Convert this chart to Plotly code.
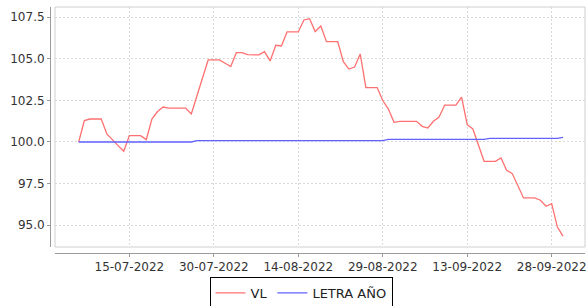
import plotly.graph_objects as go

dates = [
    "2022-07-06", "2022-07-07", "2022-07-08", "2022-07-09", "2022-07-10", "2022-07-11", "2022-07-12",
    "2022-07-13", "2022-07-14", "2022-07-15", "2022-07-16", "2022-07-17", "2022-07-18", "2022-07-19",
    "2022-07-20", "2022-07-21", "2022-07-22", "2022-07-23", "2022-07-24", "2022-07-25", "2022-07-26",
    "2022-07-27", "2022-07-28", "2022-07-29", "2022-07-30", "2022-07-31",
    "2022-08-01", "2022-08-02", "2022-08-03", "2022-08-04", "2022-08-05", "2022-08-06", "2022-08-07",
    "2022-08-08", "2022-08-09", "2022-08-10", "2022-08-11", "2022-08-12", "2022-08-13", "2022-08-14",
    "2022-08-15", "2022-08-16", "2022-08-17", "2022-08-18", "2022-08-19", "2022-08-20", "2022-08-21",
    "2022-08-22", "2022-08-23", "2022-08-24", "2022-08-25", "2022-08-26", "2022-08-27", "2022-08-28",
    "2022-08-29", "2022-08-30", "2022-08-31",
    "2022-09-01", "2022-09-02", "2022-09-03", "2022-09-04", "2022-09-05", "2022-09-06", "2022-09-07",
    "2022-09-08", "2022-09-09", "2022-09-10", "2022-09-11", "2022-09-12", "2022-09-13", "2022-09-14",
    "2022-09-15", "2022-09-16", "2022-09-17", "2022-09-18", "2022-09-19", "2022-09-20", "2022-09-21",
    "2022-09-22", "2022-09-23", "2022-09-24", "2022-09-25", "2022-09-26", "2022-09-27", "2022-09-28",
    "2022-09-29", "2022-09-30",
]

vl = [
    100.00, 101.29, 101.38, 101.38, 101.38, 100.48, 100.10,
    99.78, 99.44, 100.38, 100.38, 100.38, 100.14, 101.38,
    101.83, 102.10, 102.04, 102.04, 102.04, 102.04, 101.68,
    102.84, 103.86, 104.93, 104.93, 104.93,
    104.73, 104.53, 105.37, 105.37, 105.25, 105.23, 105.23,
    105.43, 104.87, 105.81, 105.77, 106.61, 106.61, 106.61,
    107.33, 107.41, 106.63, 106.97, 106.03, 106.03, 106.03,
    104.83, 104.38, 104.50, 105.28, 103.27, 103.27, 103.27,
    102.49, 101.98, 101.18,
    101.24, 101.24, 101.24, 101.24, 100.94, 100.84, 101.24,
    101.50, 102.22, 102.22, 102.22, 102.70, 101.04, 100.78,
    99.74, 98.84, 98.84, 98.84, 99.04, 98.30, 98.10,
    97.38, 96.64, 96.64, 96.64, 96.50, 96.14, 96.30,
    94.90, 94.34,
]

letra = [
    100.00, 100.00, 100.00, 100.00, 100.00, 100.00, 100.00,
    100.00, 100.00, 100.00, 100.00, 100.00, 100.00, 100.00,
    100.00, 100.00, 100.00, 100.00, 100.00, 100.00, 100.00,
    100.08, 100.08, 100.08, 100.08, 100.08,
    100.08, 100.08, 100.08, 100.08, 100.08, 100.08, 100.08,
    100.08, 100.08, 100.08, 100.08, 100.08, 100.08, 100.08,
    100.08, 100.08, 100.08, 100.08, 100.08, 100.08, 100.08,
    100.08, 100.08, 100.08, 100.08, 100.08, 100.08, 100.08,
    100.08, 100.16, 100.16,
    100.16, 100.16, 100.16, 100.16, 100.16, 100.16, 100.16,
    100.16, 100.16, 100.16, 100.16, 100.16, 100.16, 100.16,
    100.16, 100.16, 100.22, 100.22, 100.22, 100.22, 100.22,
    100.22, 100.22, 100.22, 100.22, 100.22, 100.22, 100.22,
    100.22, 100.28,
]

series_names = ["VL", "LETRA AÑO"]
x_tickvals = ["2022-07-15", "2022-07-30", "2022-08-14", "2022-08-29", "2022-09-13", "2022-09-28"]
x_ticktext = ["15-07-2022", "30-07-2022", "14-08-2022", "29-08-2022", "13-09-2022", "28-09-2022"]
y_tickvals = [95.0, 97.5, 100.0, 102.5, 105.0, 107.5]

W, H = 587, 306
ML, MR, MT, MB = 50, 2, 7, 53
plot_w = W - ML - MR
plot_h = H - MT - MB
off_x = 5   # gap between y axis line and plot area
off_y = 6   # gap between x axis line and plot area

font_family = "DejaVu Sans, Verdana, sans-serif"
grid_col = "#d9d9d9"

fig = go.Figure()
fig.add_trace(go.Scatter(x=dates, y=vl, mode="lines", name=series_names[0],
                         line=dict(color="#ff7070", width=1.3)))
fig.add_trace(go.Scatter(x=dates, y=letra, mode="lines", name=series_names[1],
                         line=dict(color="#6262ff", width=1.3)))

fig.update_layout(
    width=W, height=H,
    margin=dict(l=ML, r=MR, t=MT, b=MB, pad=0, autoexpand=False),
    paper_bgcolor="white", plot_bgcolor="white",
    font=dict(family=font_family, size=12, color="#404040"),
    showlegend=True,
    legend=dict(
        orientation="h", xref="container", yref="container",
        x=301 / W, xanchor="center", y=1 - 277 / H, yanchor="top",
        bordercolor="#000000", borderwidth=1, bgcolor="white",
        font=dict(family=font_family, size=13, color="#222222"),
        itemwidth=30, tracegroupgap=0, itemclick=False,
    ),
    xaxis=dict(
        type="date", automargin=False,
        domain=[off_x / plot_w, 1],
        anchor="free", position=0,
        range=["2022-07-01 19:00", "2022-10-03 22:00"],
        tickvals=x_tickvals, ticktext=x_ticktext,
        showgrid=True, gridcolor=grid_col, griddash="2px,2px", gridwidth=1,
        showline=True, linecolor="#9a9a9a", linewidth=1,
        ticks="outside", ticklen=3, tickcolor="#9a9a9a",
        tickfont=dict(size=12, color="#333333"),
        zeroline=False,
    ),
    yaxis=dict(
        automargin=False,
        domain=[off_y / plot_h, 1],
        anchor="free", position=0,
        range=[93.69, 108.11],
        tickvals=y_tickvals, tickformat=".1f",
        showgrid=True, gridcolor=grid_col, griddash="2px,2px", gridwidth=1,
        showline=True, linecolor="#9a9a9a", linewidth=1,
        ticks="outside", ticklen=3, tickcolor="#9a9a9a",
        tickfont=dict(size=12, color="#333333"),
        zeroline=False,
    ),
)

# plot-area border
fig.add_shape(type="rect", xref="x domain", yref="y domain", x0=0, x1=1, y0=0, y1=1,
              line=dict(color="#cfcfcf", width=1), fillcolor="rgba(0,0,0,0)", layer="below")

fig.write_html(
    "out.html",
    config={"displayModeBar": False},
    post_script="document.body.style.margin='0';document.body.style.overflow='hidden';",
)
